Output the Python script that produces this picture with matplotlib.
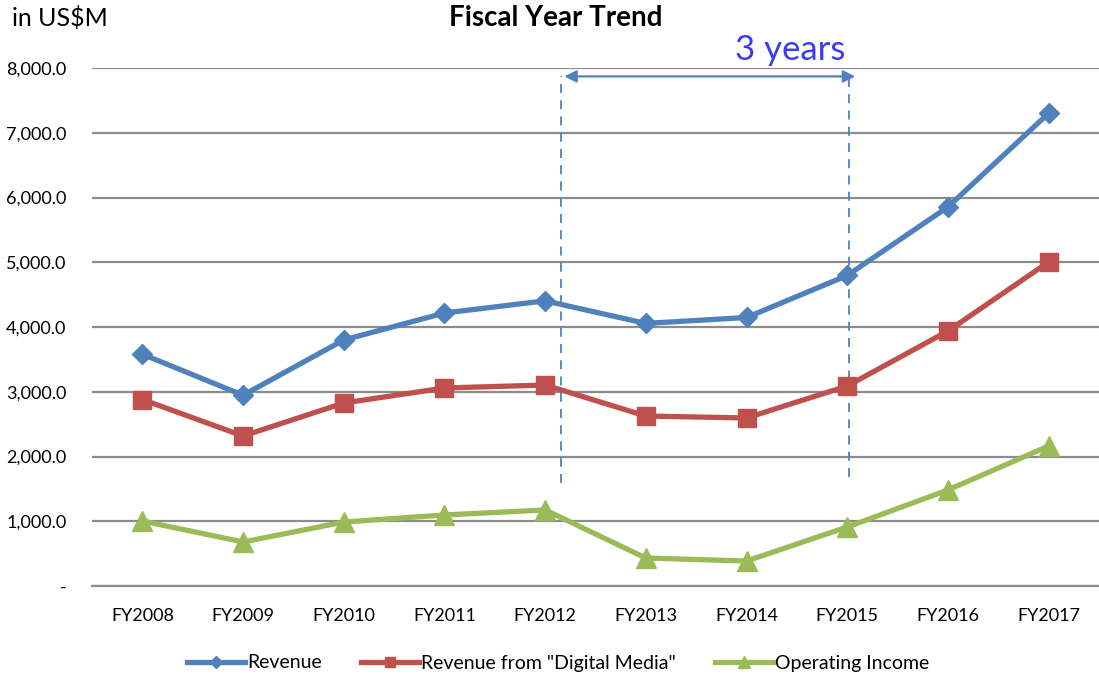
import matplotlib
matplotlib.use("Agg")
import matplotlib.pyplot as plt
from matplotlib.ticker import FuncFormatter

plt.rcParams['font.family'] = ['Lato', 'DejaVu Sans']

years = ["FY2008", "FY2009", "FY2010", "FY2011", "FY2012",
         "FY2013", "FY2014", "FY2015", "FY2016", "FY2017"]
revenue = [3580, 2946, 3800, 4216, 4404, 4055, 4147, 4796, 5854, 7302]
digital_media = [2880, 2317, 2826, 3058, 3104, 2625, 2595, 3089, 3938, 5004]
operating_income = [1004, 680, 988, 1097, 1174, 432, 386, 911, 1483, 2162]

c_rev = "#4F81BD"
c_dm = "#C0504D"
c_oi = "#9BBB59"

fig = plt.figure(figsize=(10.99, 6.76), dpi=100)
ax = fig.add_axes([92/1099, 1-586/676, 1007/1099, (586-68)/676])

x = list(range(len(years)))
ax.plot(x, revenue, color=c_rev, lw=3.8, marker="D", ms=10, label="Revenue", zorder=5)
ax.plot(x, digital_media, color=c_dm, lw=3.8, marker="s", ms=13, label='Revenue from "Digital Media"', zorder=5)
ax.plot(x, operating_income, color=c_oi, lw=3.8, marker="^", ms=15, label="Operating Income", zorder=5)

ax.set_xlim(-0.5, len(years) - 0.5)
ax.set_ylim(0, 8000)
ax.set_yticks(range(0, 8001, 1000))
ax.yaxis.set_major_formatter(FuncFormatter(lambda v, p: "-" if v == 0 else f"{v:,.1f}"))
ax.set_xticks(x)
ax.set_xticklabels(years)
ax.tick_params(axis="both", length=0, labelsize=13, colors="black")
ax.tick_params(axis="y", pad=18.5)
ax.tick_params(axis="x", pad=16)
ax.grid(axis="y", color="#8C8C8C", lw=1.6)
ax.set_axisbelow(True)
for s in ["top", "right", "left"]:
    ax.spines[s].set_visible(False)
ax.spines["bottom"].set_color("#8C8C8C")
ax.spines["bottom"].set_linewidth(1.6)

# annotation: 3 years
ax.plot([4.157, 4.157], [1590, 7880], color=c_rev, lw=1.3, ls=(0, (5, 4)), zorder=3)
ax.plot([7.014, 7.014], [1690, 7880], color=c_rev, lw=1.3, ls=(0, (5, 4)), zorder=3)
ax.annotate("", xy=(4.19, 7870), xytext=(7.08, 7870),
            arrowprops=dict(arrowstyle="<|-|>", color=c_rev, lw=1.6,
                            mutation_scale=18, shrinkA=0, shrinkB=0), zorder=6)
ax.text(6.43, 8280, "3 years", color="#3B3BF5", fontsize=25, ha="center", va="center", clip_on=False)

fig.text(12/1099, 1-18/676, "in US$M", fontsize=18, ha="left", va="center")
fig.text(556/1099, 1-18/676, "Fiscal Year Trend", fontsize=20, fontweight="bold", ha="center", va="center")

leg = fig.legend(loc="center", bbox_to_anchor=(558/1099, 1-663/676), ncol=3, frameon=False,
                 fontsize=14, handlelength=3.0, handletextpad=0.1, columnspacing=2.0,
                 markerscale=0.6)

fig.savefig("out.png", dpi=100)
